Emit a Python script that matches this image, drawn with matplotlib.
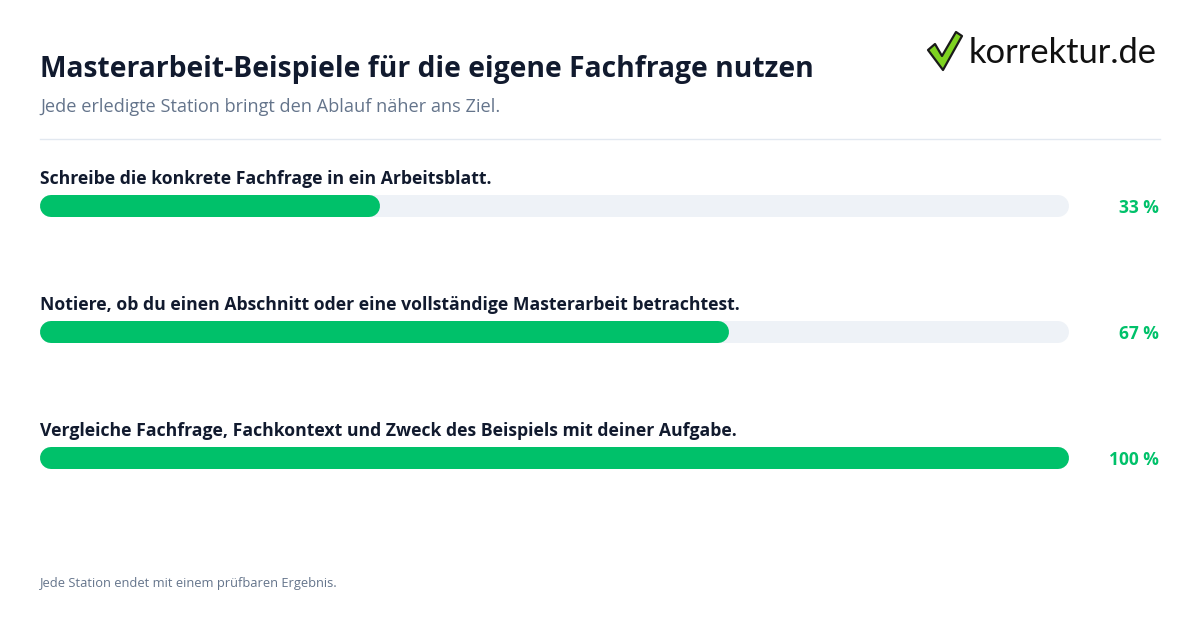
import matplotlib
matplotlib.use("Agg")
import matplotlib.pyplot as plt
from matplotlib.patches import Polygon

# ---- data ----
steps = [
    "Schreibe die konkrete Fachfrage in ein Arbeitsblatt.",
    "Notiere, ob du einen Abschnitt oder eine vollständige Masterarbeit betrachtest.",
    "Vergleiche Fachfrage, Fachkontext und Zweck des Beispiels mit deiner Aufgabe.",
]
progress = [33, 67, 100]
title = "Masterarbeit-Beispiele für die eigene Fachfrage nutzen"
subtitle = "Jede erledigte Station bringt den Ablauf näher ans Ziel."
footer = "Jede Station endet mit einem prüfbaren Ergebnis."
brand = "korrektur.de"

# ---- style ----
W, H, DPI = 1200, 630, 100
GREEN = "#00c16a"
TRACK = "#eef2f7"
DARK = "#111a2e"
GRAY = "#64748b"
FONT = ["Open Sans", "DejaVu Sans"]

fig = plt.figure(figsize=(W / DPI, H / DPI), dpi=DPI, facecolor="white")

# overlay axes in pixel coordinates for header / footer / logo
ov = fig.add_axes([0, 0, 1, 1])
ov.set_xlim(0, W)
ov.set_ylim(H, 0)
ov.axis("off")

ov.text(40, 70, title, fontsize=20.3, fontweight="bold", color=DARK,
        family=FONT, va="center", ha="left")
ov.text(40, 107, subtitle, fontsize=13.1, color=GRAY, family=FONT,
        va="center", ha="left")
ov.plot([40, 1160], [138.5, 138.5], color="#e2e8f0", lw=1)
ov.text(40, 583, footer, fontsize=9.3, color=GRAY, family=FONT,
        va="center", ha="left")

# logo
check = Polygon([(928, 50), (935, 44), (942, 56), (956, 32), (962, 36), (943, 70)],
                closed=True, facecolor="#7ed321", edgecolor="#1a1a1a", lw=1.6,
                joinstyle="round")
ov.add_patch(check)
ov.text(969, 53, brand, fontsize=24.8, color="#111111", family=["Lato", "DejaVu Sans"],
        va="center", ha="left")

# bar axes
top_px, row_px = 142.5, 126
left_px, right_px = 40, 1069
ax = fig.add_axes([left_px / W, 1 - (top_px + 3 * row_px) / H,
                   (right_px - left_px) / W, 3 * row_px / H])
ax.set_xlim(0, 100)
ax.set_ylim(3, 0)
ax.axis("off")

bar_px = 22
lw_pt = bar_px * 72 / DPI
r = (bar_px / 2) / (right_px - left_px) * 100  # cap radius in data units

for i, (lab, val) in enumerate(zip(steps, progress)):
    y = i + 0.5
    ax.plot([r, 100 - r], [y, y], color=TRACK, lw=lw_pt, solid_capstyle="round")
    ax.plot([r, val - r], [y, y], color=GREEN, lw=lw_pt, solid_capstyle="round")
    ax.annotate(lab, xy=(0, y), xytext=(0, 26 * 72 / DPI), textcoords="offset points",
                fontsize=12.7, fontweight="bold", color=DARK, family=FONT,
                va="center", ha="left")
    ax.annotate(f"{val} %", xy=(100, y), xytext=(90 * 72 / DPI, -2.5 * 72 / DPI),
                textcoords="offset points", fontsize=12.5, fontweight="bold",
                color=GREEN, family=FONT, va="center", ha="right")

fig.savefig("out.png", dpi=DPI, facecolor="white")
